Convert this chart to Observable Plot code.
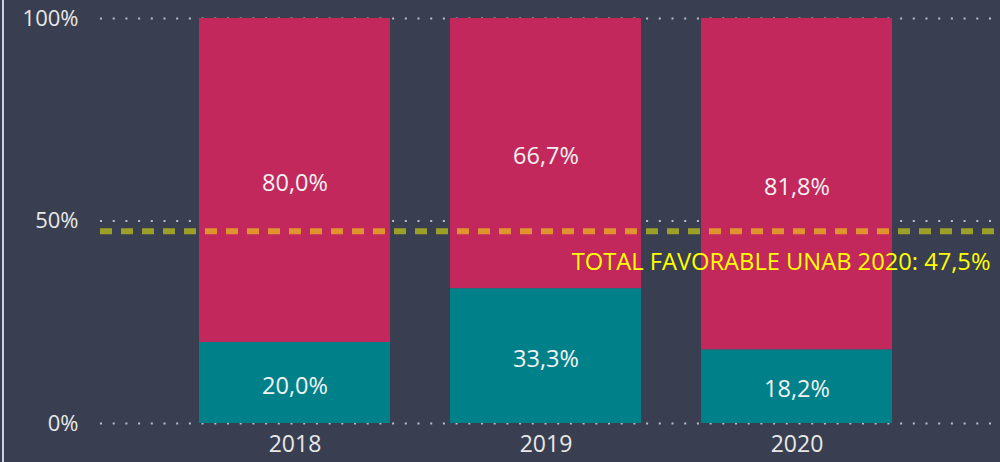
<!DOCTYPE html>
<html>
<head>
<meta charset="utf-8">
<script src="https://cdn.jsdelivr.net/npm/d3@7"></script>
<script src="https://cdn.jsdelivr.net/npm/@observablehq/plot@0.6"></script>
<style>
  html, body { margin: 0; padding: 0; background: #393f51; }
  #wrap { position: relative; width: 1000px; height: 462px; overflow: hidden; }
  #edge { position: absolute; left: 2px; top: 0; width: 2px; height: 462px; background: #c9d2de; }
</style>
</head>
<body>
<div id="wrap"><div id="edge"></div></div>
<script>
const years = ["2018", "2019", "2020"];
const favorable = [20.0, 33.3, 18.2];
const noFavorable = [80.0, 66.7, 81.8];
const seriesNames = ["Favorable", "No favorable"];
const seriesColors = ["#00818a", "#c2285c"];
const yTicks = [0, 50, 100];
const totalFavorable = 47.5;
const totalLabel = "TOTAL FAVORABLE UNAB 2020: 47,5%";

const data = years.flatMap((year, i) => [
  {year, serie: seriesNames[0], value: favorable[i]},
  {year, serie: seriesNames[1], value: noFavorable[i]}
]);

const fmt = v => v.toFixed(1).replace(".", ",") + "%";

const chart = Plot.plot({
  width: 1000,
  height: 462,
  marginLeft: 100,
  marginRight: 0,
  marginTop: 18,
  marginBottom: 39,
  style: {background: "transparent", color: "#e8e8e8", fontFamily: "'Open Sans', sans-serif", fontSize: "22px"},
  x: {domain: years, paddingInner: 0.239, paddingOuter: 0.412, align: 0.478, label: null},
  y: {domain: [0, 100], label: null},
  color: {domain: seriesNames, range: seriesColors},
  marks: [
    Plot.ruleY(yTicks, {stroke: "#b9bec8", strokeWidth: 2, strokeDasharray: "2,10.7"}),
    Plot.barY(data, {x: "year", y: "value", fill: "serie"}),
    Plot.text(data, Plot.stackY({x: "year", y: "value", text: d => fmt(d.value), fill: "#f2f2f2", fontSize: 23.5, dy: 3})),
    Plot.ruleY([totalFavorable], {stroke: "#ffff00", strokeOpacity: 0.5, strokeWidth: 6, strokeDasharray: "12,9"}),
    Plot.text([totalLabel], {text: d => d, y: () => totalFavorable, dy: 31, frameAnchor: "right", textAnchor: "end", dx: -10, fill: "#ffff00", fontSize: 23.7}),
    Plot.axisY(yTicks, {tickSize: 0, tickPadding: 22, tickFormat: d => d + "%", fontSize: 22, fill: "#e8e8e8"}),
    Plot.axisX({tickSize: 0, tickPadding: 12, fontSize: 23, fill: "#e8e8e8"})
  ]
});
document.getElementById("wrap").appendChild(chart);
</script>
</body>
</html>
